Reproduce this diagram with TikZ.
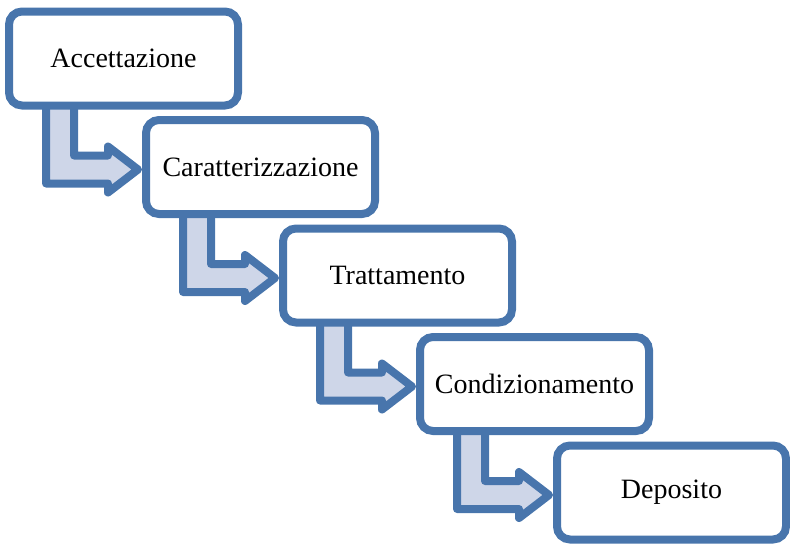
\documentclass[tikz,border=0pt]{standalone}
\usepackage{fontspec}
\setmainfont{Liberation Serif}
\usetikzlibrary{positioning, calc, backgrounds}

\definecolor{stepblue}{RGB}{72,117,172}
\definecolor{steplight}{RGB}{206,214,232}

\begin{document}
\begin{tikzpicture}[
    x=1pt, y=1pt,
    box/.style={rectangle, rounded corners=13pt, draw=stepblue, fill=white, line width=8pt, minimum width=229pt, minimum height=94pt, align=center, font=\fontsize{28}{33}\selectfont},
    flow/.style={draw=stepblue, fill=steplight, line width=8pt, line join=round,
        to path={let \p1=(\tikztostart.south west), \p2=(\tikztotarget.west) in
            (\x1+41pt,\y1+20pt) -- (\x1+41pt,\y2-16.5pt) -- (\x2-34pt,\y2-16.5pt) -- (\x2-34pt,\y2-25.5pt)
            -- (\x2-4pt,\y2-2.5pt) -- (\x2-34pt,\y2+20.5pt) -- (\x2-34pt,\y2+11.5pt)
            -- (\x1+69pt,\y2+11.5pt) -- (\x1+69pt,\y1+20pt) -- cycle}}
]
\useasboundingbox (0,0) rectangle (790,-550);

% Steps - going down to the right
\node[box] (acc) at (123.5,-58.5) {Accettazione};
\node[box, below=6.5pt of acc, xshift=137pt] (car) {Caratterizzazione};
\node[box, below=6.5pt of car, xshift=137pt] (tra) {Trattamento};
\node[box, below=6.5pt of tra, xshift=137pt] (con) {Condizionamento};
\node[box, below=6.5pt of con, xshift=137pt] (dep) {Deposito};

% Bent arrows behind the boxes
\begin{scope}[on background layer]
\draw[flow] (acc) to (car);
\draw[flow] (car) to (tra);
\draw[flow] (tra) to (con);
\draw[flow] (con) to (dep);
\end{scope}

\end{tikzpicture}
\end{document}
